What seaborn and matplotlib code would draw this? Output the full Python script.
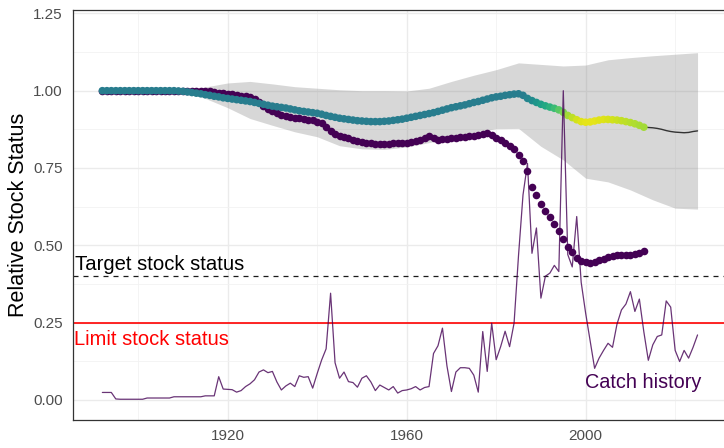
import numpy as np
import pandas as pd
import matplotlib
matplotlib.use("Agg")
import matplotlib.pyplot as plt
from matplotlib.ticker import FixedLocator
import seaborn as sns

# ---- data ---------------------------------------------------------------
catch_years = list(range(1892, 2026))
catch = [
    0.024, 0.024, 0.024, 0.003, 0.002, 0.002, 0.002, 0.002, 0.002, 0.002,   # 1892-1901
    0.006, 0.006, 0.006, 0.006, 0.006, 0.006, 0.010, 0.010, 0.010, 0.010,   # 1902-1911
    0.010, 0.010, 0.010, 0.013, 0.013, 0.013, 0.075, 0.035, 0.034, 0.033,   # 1912-1921
    0.025, 0.030, 0.043, 0.052, 0.065, 0.090, 0.097, 0.088, 0.092, 0.058,   # 1922-1931
    0.032, 0.045, 0.054, 0.043, 0.078, 0.073, 0.075, 0.038, 0.085, 0.129,   # 1932-1941
    0.165, 0.345, 0.120, 0.070, 0.090, 0.059, 0.056, 0.041, 0.070, 0.078,   # 1942-1951
    0.058, 0.030, 0.048, 0.040, 0.032, 0.043, 0.022, 0.030, 0.032, 0.036,   # 1952-1961
    0.043, 0.032, 0.040, 0.043, 0.150, 0.175, 0.232, 0.110, 0.027, 0.090,   # 1962-1971
    0.104, 0.104, 0.102, 0.080, 0.025, 0.221, 0.092, 0.248, 0.130, 0.172,   # 1972-1981
    0.222, 0.172, 0.248, 0.468, 0.663, 0.765, 0.474, 0.556, 0.329, 0.400,   # 1982-1991
    0.410, 0.435, 0.415, 1.000, 0.470, 0.430, 0.593, 0.380, 0.280, 0.190,   # 1992-2001
    0.102, 0.135, 0.160, 0.183, 0.170, 0.245, 0.291, 0.310, 0.350, 0.286,   # 2002-2011
    0.326, 0.220, 0.128, 0.178, 0.205, 0.210, 0.320, 0.300, 0.160, 0.124,   # 2012-2021
    0.160, 0.135, 0.170, 0.210,                                             # 2022-2025
]

status_years = list(range(1892, 2014))
# relative stock status, reference run (coloured points)
status_main = [
    1.000, 1.000, 1.000, 1.000, 1.000, 1.000, 1.000, 1.000, 1.000, 1.000,   # 1892-1901
    1.000, 1.000, 1.000, 1.000, 1.000, 1.000, 1.000, 0.999, 0.998, 0.996,   # 1902-1911
    0.994, 0.992, 0.990, 0.987, 0.985, 0.982, 0.980, 0.977, 0.975, 0.973,   # 1912-1921
    0.971, 0.969, 0.967, 0.965, 0.962, 0.959, 0.956, 0.953, 0.950, 0.948,   # 1922-1931
    0.946, 0.944, 0.941, 0.938, 0.935, 0.933, 0.931, 0.929, 0.927, 0.924,   # 1932-1941
    0.920, 0.917, 0.914, 0.911, 0.909, 0.907, 0.905, 0.903, 0.902, 0.901,   # 1942-1951
    0.900, 0.900, 0.900, 0.901, 0.902, 0.904, 0.906, 0.908, 0.911, 0.914,   # 1952-1961
    0.917, 0.920, 0.923, 0.926, 0.929, 0.933, 0.937, 0.941, 0.945, 0.948,   # 1962-1971
    0.951, 0.954, 0.958, 0.962, 0.965, 0.969, 0.973, 0.977, 0.980, 0.982,   # 1972-1981
    0.985, 0.987, 0.989, 0.990, 0.985, 0.975, 0.968, 0.962, 0.956, 0.951,   # 1982-1991
    0.947, 0.943, 0.938, 0.930, 0.920, 0.913, 0.906, 0.900, 0.898, 0.899,   # 1992-2001
    0.902, 0.905, 0.907, 0.907, 0.906, 0.905, 0.903, 0.900, 0.897, 0.893,   # 2002-2011
    0.888, 0.882,                                                           # 2012-2013
]
# colour scale value of each reference-run point (0-1 on viridis)
status_colour = [0.42] * 95 + [
    0.45, 0.48, 0.52, 0.56, 0.60, 0.64, 0.68, 0.74, 0.80, 0.86,             # 1987-1996
    0.90, 0.93, 0.95, 0.96, 0.96, 0.96, 0.95, 0.95, 0.94, 0.93,             # 1997-2006
    0.92, 0.91, 0.90, 0.89, 0.88, 0.87, 0.86,                               # 2007-2013
]
# relative stock status, alternative run (dark points)
status_alt = [
    1.000, 1.000, 1.000, 1.000, 1.000, 1.000, 1.000, 1.000, 1.000, 1.000,   # 1892-1901
    1.000, 1.000, 1.000, 1.000, 1.000, 1.000, 1.000, 1.000, 1.000, 1.000,   # 1902-1911
    1.000, 1.000, 1.000, 1.000, 0.998, 0.996, 0.994, 0.992, 0.990, 0.988,   # 1912-1921
    0.986, 0.984, 0.982, 0.979, 0.972, 0.962, 0.952, 0.942, 0.934, 0.928,   # 1922-1931
    0.923, 0.919, 0.916, 0.913, 0.911, 0.909, 0.906, 0.904, 0.900, 0.894,   # 1932-1941
    0.882, 0.871, 0.861, 0.855, 0.850, 0.846, 0.842, 0.838, 0.834, 0.832,   # 1942-1951
    0.830, 0.829, 0.828, 0.828, 0.829, 0.830, 0.831, 0.832, 0.832, 0.834,   # 1952-1961
    0.837, 0.841, 0.846, 0.852, 0.848, 0.842, 0.843, 0.845, 0.846, 0.848,   # 1962-1971
    0.849, 0.851, 0.853, 0.855, 0.857, 0.860, 0.862, 0.856, 0.848, 0.840,   # 1972-1981
    0.830, 0.822, 0.810, 0.792, 0.772, 0.740, 0.690, 0.662, 0.632, 0.610,   # 1982-1991
    0.592, 0.570, 0.545, 0.520, 0.496, 0.478, 0.460, 0.449, 0.445, 0.444,   # 1992-2001
    0.447, 0.452, 0.457, 0.462, 0.465, 0.467, 0.468, 0.469, 0.470, 0.472,   # 2002-2011
    0.475, 0.480,                                                           # 2012-2013
]

proj_years = list(range(2013, 2026))
proj_median = [0.882, 0.881, 0.880, 0.878, 0.875, 0.871, 0.868,
               0.866, 0.865, 0.864, 0.865, 0.868, 0.870]

band_years = [1910, 1915, 1920, 1925, 1930, 1935, 1940, 1945, 1950, 1955, 1960, 1965,
              1970, 1975, 1980, 1985, 1990, 1995, 2000, 2005, 2010, 2015, 2020, 2025]
band_lower = [1.000, 0.975, 0.945, 0.910, 0.888, 0.867, 0.851, 0.822, 0.812, 0.810, 0.818, 0.832,
              0.848, 0.865, 0.877, 0.878, 0.820, 0.776, 0.717, 0.705, 0.679, 0.647, 0.620, 0.617]
band_upper = [1.000, 1.012, 1.025, 1.030, 1.022, 1.013, 1.008, 1.003, 1.000, 1.000, 0.999, 1.008,
              1.030, 1.050, 1.068, 1.090, 1.085, 1.080, 1.083, 1.100, 1.107, 1.113, 1.118, 1.123]

target_level = 0.40
limit_level = 0.25

assert len(catch) == len(catch_years)
assert len(status_main) == len(status_years) == len(status_alt) == len(status_colour)

catch_df = pd.DataFrame({"year": catch_years, "catch": catch})
main_df = pd.DataFrame({"year": status_years, "status": status_main, "colour": status_colour})
alt_df = pd.DataFrame({"year": status_years, "status": status_alt})
proj_df = pd.DataFrame({"year": proj_years, "status": proj_median})

# ---- style --------------------------------------------------------------
sns.set_style("white")
plt.rcParams["font.family"] = ["Liberation Sans", "DejaVu Sans"]

fig = plt.figure(figsize=(7.24, 4.48), dpi=100)
ax = fig.add_axes([72.6 / 724, 28.5 / 448, (727.3 - 72.6) / 724, (438 - 28.5) / 448])

ax.set_xlim(1885.35, 2031.65)
ax.set_ylim(-0.0635, 1.261)

ax.xaxis.set_major_locator(FixedLocator([1920, 1960, 2000]))
ax.xaxis.set_minor_locator(FixedLocator([1900, 1940, 1980, 2020]))
ax.yaxis.set_major_locator(FixedLocator([0.0, 0.25, 0.5, 0.75, 1.0, 1.25]))
ax.yaxis.set_minor_locator(FixedLocator([0.125, 0.375, 0.625, 0.875, 1.125]))
ax.set_yticklabels(["0.00", "0.25", "0.50", "0.75", "1.00", "1.25"])
ax.grid(which="major", color="#EBEBEB", linewidth=1.0, zorder=0)
ax.grid(which="minor", color="#F2F2F2", linewidth=0.6, zorder=0)
ax.set_axisbelow(True)
ax.tick_params(which="major", length=3, width=0.8, color="#333333",
               labelsize=11, labelcolor="#4D4D4D", pad=4)
ax.tick_params(which="minor", length=0)
for sp in ax.spines.values():
    sp.set_color("#333333")
    sp.set_linewidth(0.9)

# ---- marks --------------------------------------------------------------
ax.fill_between(band_years, band_lower, band_upper, color="#808080", alpha=0.31,
                linewidth=0, zorder=1)

ax.axhline(target_level, color="#1A1A1A", linewidth=0.9, linestyle=(0, (4, 4)), zorder=2)
ax.axhline(limit_level, color="#FF0000", linewidth=1.2, zorder=2)

sns.lineplot(data=proj_df, x="year", y="status", ax=ax, color="#333333",
             linewidth=1.0, zorder=2.5)

sns.scatterplot(data=alt_df, x="year", y="status", ax=ax, color="#440154",
                s=30, linewidth=0, legend=False, zorder=3)
sns.scatterplot(data=main_df, x="year", y="status", hue="colour", palette="viridis",
                hue_norm=(0, 1), ax=ax, s=30, linewidth=0, legend=False, zorder=3.2)

sns.lineplot(data=catch_df, x="year", y="catch", ax=ax, color="#440154", alpha=0.8,
             linewidth=0.9, zorder=4)

# ---- text ---------------------------------------------------------------
ax.text(1885.9, 0.42, "Target stock status", color="black", fontsize=14.6,
        ha="left", va="baseline", zorder=5)
ax.text(1885.7, 0.178, "Limit stock status", color="#FF0000", fontsize=14.5,
        ha="left", va="baseline", zorder=5)
ax.text(1999.85, 0.038, "Catch history", color="#440154", fontsize=14.3,
        ha="left", va="baseline", zorder=5)

ax.set_xlabel("")
ax.set_ylabel("Relative Stock Status", fontsize=15.5, color="black")
ax.yaxis.set_label_coords((29 - 72.6) / 654.7, 0.5)

fig.savefig("out.png", dpi=100)
